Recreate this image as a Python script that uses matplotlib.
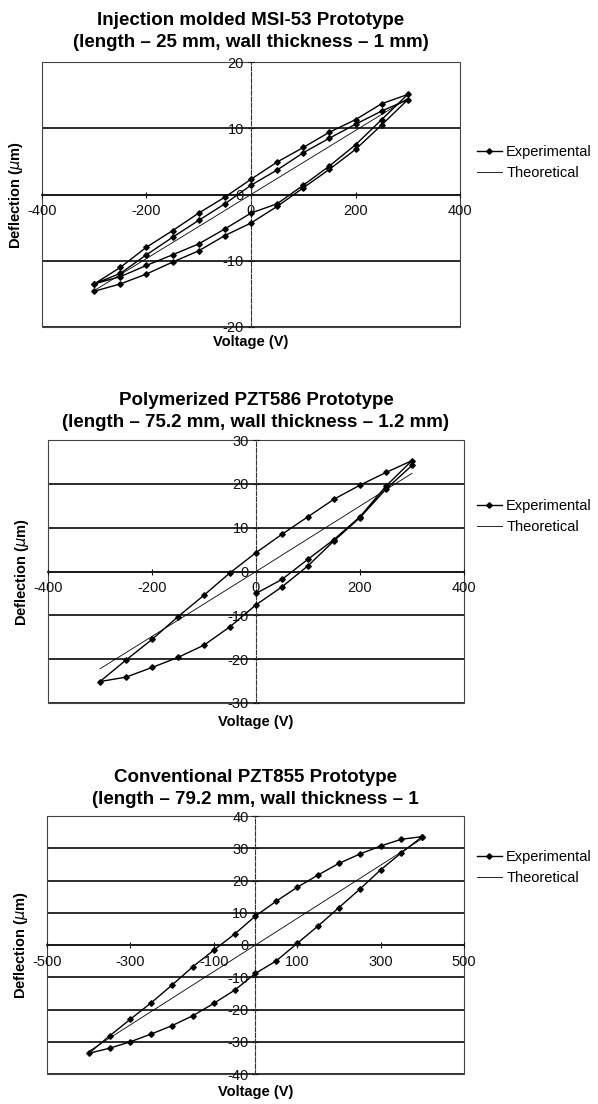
import matplotlib
matplotlib.use("Agg")
import matplotlib.pyplot as plt
from matplotlib.patches import Rectangle

plt.rcParams["font.family"] = ["Liberation Sans", "DejaVu Sans"]
plt.rcParams["axes.unicode_minus"] = False

# ---- Injection molded MSI-53 ----
v1 = [-300, -250, -200, -150, -100, -50, 0, 50, 100, 150, 200, 250, 300,
      250, 200, 150, 100, 50, 0, -50, -100, -150, -200, -250, -300,
      -250, -200, -150, -100, -50, 0, 50, 100, 150, 200, 250, 300,
      250, 200, 150, 100, 50, 0, -50, -100, -150, -200, -250, -300]
d1 = [-14.6, -13.5, -12.0, -10.2, -8.5, -6.2, -4.3, -1.8, 1.0, 3.8, 6.8, 10.5, 14.3,
      12.6, 10.6, 8.5, 6.3, 3.7, 1.4, -1.4, -3.9, -6.45, -9.1, -11.9, -13.5,
      -12.4, -10.7, -9.1, -7.45, -5.2, -2.8, -1.4, 1.4, 4.3, 7.5, 11.3, 15.1,
      13.7, 11.3, 9.4, 7.1, 4.9, 2.3, -0.4, -2.8, -5.45, -7.95, -11.0, -13.5]
tv1 = [-300, 0, 300]
td1 = [-14.5, 0, 14.5]

# ---- Polymerized PZT586 ----
v2 = [0, 50, 100, 150, 200, 250, 300,
      250, 200, 150, 100, 50, 0, -50, -100, -150, -200, -250, -300,
      -250, -200, -150, -100, -50, 0, 50, 100, 150, 200, 250, 300]
d2 = [-5.0, -1.8, 2.8, 7.3, 12.5, 19.5, 25.3,
      22.6, 19.7, 16.5, 12.5, 8.5, 4.3, -0.3, -5.4, -10.3, -15.5, -20.2, -25.1,
      -24.1, -21.9, -19.6, -16.8, -12.6, -7.6, -3.5, 1.3, 7.0, 12.3, 18.8, 24.2]
tv2 = [-300, 0, 300]
td2 = [-22.2, 0, 22.4]

# ---- Conventional PZT855 ----
v3 = [400, 350, 300, 250, 200, 150, 100, 50, 0, -50, -100, -150, -200, -250, -300, -350, -400,
      -350, -300, -250, -200, -150, -100, -50, 0, 50, 100, 150, 200, 250, 300, 350, 400]
d3 = [33.6, 32.8, 30.7, 28.2, 25.3, 21.7, 17.9, 13.6, 9.0, 3.4, -1.6, -6.7, -12.4, -17.9, -23.0, -28.2, -33.6,
      -32.0, -30.0, -27.6, -25.0, -21.9, -18.1, -14.0, -8.8, -4.9, 0.5, 5.9, 11.6, 17.3, 23.3, 28.6, 33.6]
tv3 = [-400, 0, 400]
td3 = [-33.0, 0, 33.0]

titles = ["Injection molded MSI-53 Prototype\n(length \u2013 25 mm, wall thickness \u2013 1 mm)",
          "Polymerized PZT586 Prototype\n(length \u2013 75.2 mm, wall thickness \u2013 1.2 mm)",
          "Conventional PZT855 Prototype\n(length \u2013 79.2 mm, wall thickness \u2013 1"]
xticks = [[-400, -200, 0, 200, 400], [-400, -200, 0, 200, 400], [-500, -300, -100, 100, 300, 500]]
yticks = [[-20, -10, 0, 10, 20], [-30, -20, -10, 0, 10, 20, 30], [-40, -30, -20, -10, 0, 10, 20, 30, 40]]

W, H = 598, 1104
fig = plt.figure(figsize=(W / 100, H / 100), dpi=100)

# axes boxes in pixels: left, top, right, bottom
boxes = [(42, 62, 460, 327), (48, 440, 464, 703), (47, 816, 464, 1074)]
leg_y = [0.62, 0.71, 0.80]
xlab_off = [8, 12, 11]
title_pad = [11, 9.5, 9]

data = [(v1, d1, tv1, td1), (v2, d2, tv2, td2), (v3, d3, tv3, td3)]

for i, (v, d, tv, td) in enumerate(data):
    l, t, r, b = boxes[i]
    ax = fig.add_axes([l / W, 1 - b / H, (r - l) / W, (b - t) / H])
    xt, yt = xticks[i], yticks[i]
    ax.set_xlim(xt[0], xt[-1])
    ax.set_ylim(yt[0], yt[-1])

    for y in yt:
        ax.axhline(y, color="#1a1a1a", lw=1.3, zorder=1)

    ax.spines["top"].set_visible(False)
    ax.spines["right"].set_visible(False)
    ax.spines["left"].set_position(("data", 0))
    ax.spines["left"].set_linestyle((0, (4, 1.5)))
    ax.spines["left"].set_linewidth(0.8)
    ax.spines["left"].set_color("#333333")
    ax.spines["bottom"].set_position(("data", 0))
    ax.spines["bottom"].set_linewidth(1.3)
    ax.spines["bottom"].set_color("#1a1a1a")
    ax.add_patch(Rectangle((0, 0), 1, 1, transform=ax.transAxes, fill=False,
                           ec="#444444", lw=0.8, clip_on=False, zorder=1))

    ax.set_xticks(xt)
    ax.set_yticks(yt)
    ax.tick_params(axis="both", direction="inout", length=4, width=0.8,
                   labelsize=10.5, colors="#111111")
    ax.tick_params(axis="x", pad=5)
    ax.tick_params(axis="y", pad=3)

    ax.plot(v, d, color="black", lw=1.0, marker="D", ms=2.8, label="Experimental", zorder=3)
    ax.plot(tv, td, color="black", lw=0.6, label="Theoretical", zorder=2)

    ax.set_title(titles[i], fontsize=13.5, fontweight="bold", pad=title_pad[i], linespacing=1.35)
    ax.set_ylabel(r"Deflection ($\mu$m)", fontsize=10.5, fontweight="bold")
    ax.set_xlabel("Voltage (V)", fontsize=10.5, fontweight="bold")
    ax.yaxis.set_label_coords(-17 / (r - l), 0.5)
    ax.xaxis.set_label_coords(0.5, -xlab_off[i] / (b - t))

    ax.legend(loc="center left", bbox_to_anchor=(1 + (477 - r) / (r - l), leg_y[i]),
              frameon=False, fontsize=10.5, handlelength=1.7, handletextpad=0.3,
              borderaxespad=0, borderpad=0)

fig.savefig("out.png", dpi=100)
